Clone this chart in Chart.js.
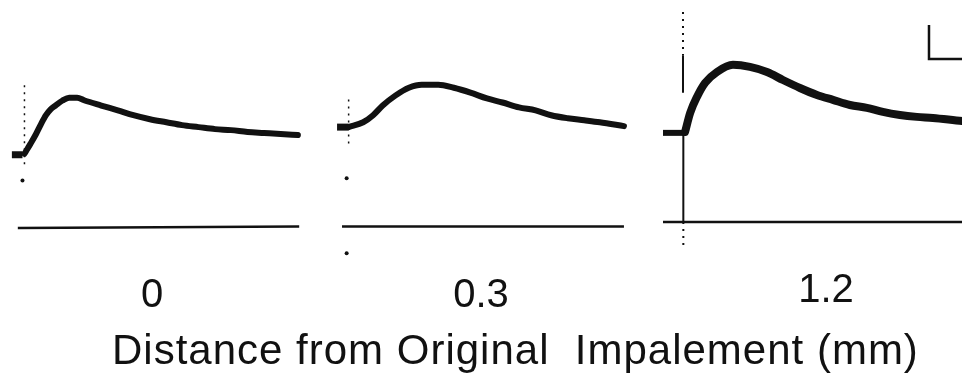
<!DOCTYPE html>
<html>
<head>
<meta charset="utf-8">
<script src="https://cdn.jsdelivr.net/npm/chart.js@4.4.1/dist/chart.umd.min.js"></script>
<style>
  html, body { margin: 0; padding: 0; background: #fff; }
  body { position: relative; width: 962px; height: 377px; overflow: hidden; }
  canvas { position: absolute; }
  #title {
    position: absolute; left: 112px; top: 329px;
    font-family: "Liberation Sans", Arial, sans-serif; font-size: 42px; line-height: 42px;
    letter-spacing: 1px; white-space: pre; color: #111;
  }
</style>
</head>
<body>
<canvas id="sweep0" width="304" height="330" style="left:0px;top:0px"></canvas>
<canvas id="sweep1" width="300" height="330" style="left:331px;top:0px"></canvas>
<canvas id="sweep2" width="326" height="330" style="left:663px;top:-5px"></canvas>
<div id="title"></div>
<script>
/*
 * EPSPs recorded at increasing distance from the original impalement.
 * time in ms after the stimulus, voltage in mV above the lower reference line
 */
const distances = ["0", "0.3", "1.2"];
const axisTitle = "Distance from Original  Impalement (mm)";

// 0 mm
const time0 = [0, 1.8, 3.5, 5.0, 6.5, 7.9, 9.4, 11.5, 13.5, 15.9, 18.2, 23.2, 28.2, 32.9, 37.9, 42.9, 47.6, 52.6, 57.6, 62.4, 67.4, 72.4, 77.4, 82.6];
const volt0 = [4.41, 5.0, 5.59, 6.18, 6.71, 7.06, 7.29, 7.59, 7.76, 7.76, 7.59, 7.29, 7.0, 6.71, 6.47, 6.29, 6.12, 6.0, 5.88, 5.82, 5.71, 5.65, 5.59, 5.53];
const holdTime0 = [-3.8, -0.6];
const holdVolt0 = [4.35, 4.35];
const artTime0 = [0, 0];
const artVolt0 = [8.5, 3.5];
const dotTime0 = [-0.6];
const dotVolt0 = [2.82];
const baseTime0 = [-2.0, 83.0];
const baseVolt0 = [-0.03, 0.06];

// 0.3 mm
const time1 = [0, 4.4, 7.4, 10.3, 14.1, 18.2, 22.1, 27.1, 31.8, 36.8, 41.8, 46.5, 51.5, 56.5, 61.2, 66.2, 71.2, 75.9, 83.2];
const volt1 = [6.0, 6.29, 6.71, 7.29, 7.88, 8.35, 8.53, 8.53, 8.35, 8.06, 7.71, 7.47, 7.18, 7.0, 6.71, 6.53, 6.41, 6.29, 6.06];
const holdTime1 = [-3.5, 0];
const holdVolt1 = [6.0, 6.0];
const artTime1 = [0, 0];
const artVolt1 = [7.65, 5.0];
const dotTime1 = [-0.6, -0.6];
const dotVolt1 = [2.94, -1.53];
const baseTime1 = [-2.0, 83.2];
const baseVolt1 = [0.06, 0.06];

// 1.2 mm
const time2 = [0.6, 2.1, 4.1, 6.5, 10.0, 14.7, 19.7, 24.7, 29.4, 34.4, 39.4, 44.1, 49.1, 54.1, 58.8, 63.8, 68.8, 73.5, 82.1, 90.0];
const volt2 = [5.29, 6.41, 7.35, 8.18, 8.82, 9.24, 9.12, 8.82, 8.35, 7.88, 7.47, 7.18, 6.88, 6.71, 6.47, 6.29, 6.18, 6.12, 5.94, 5.82];
const holdTime2 = [-5.9, 0.6];
const holdVolt2 = [5.24, 5.24];
const artTopTime2 = [0, 0];
const artTopVolt2 = [12.35, 9.8];
const artUpTime2 = [0, 0];
const artUpVolt2 = [9.8, 7.6];
const artLowTime2 = [0.1, 0.1];
const artLowVolt2 = [5.24, 0];
const artEndTime2 = [0.1, 0.1];
const artEndVolt2 = [0, -1.65];
const baseTime2 = [-5.9, 90.0];
const baseVolt2 = [0, 0];

// calibration: 10 ms, 2 mV
const barTime = [72.35, 72.35, 82.35];
const barVolt = [11.59, 9.59, 9.59];

const INK = "#111";

function pts(t, v) {
  return t.map((x, i) => ({ x: x, y: v[i] }));
}

function line(t, v, width, extra) {
  return Object.assign({
    data: pts(t, v),
    borderColor: INK,
    borderWidth: width,
    pointRadius: 0,
    fill: false,
    clip: false,
    tension: 0,
  }, extra || {});
}

function dots(t, v) {
  return {
    data: pts(t, v),
    showLine: false,
    pointRadius: 2,
    pointBorderWidth: 0,
    pointBackgroundColor: INK,
    clip: false,
  };
}

function drawSweep(chartElementId, label, xMin, xMax, datasets) {
  new Chart(document.getElementById(chartElementId), {
    type: "line",
    data: { datasets: datasets },
    options: {
      responsive: false,
      animation: false,
      layout: { padding: 0 },
      plugins: {
        legend: { display: false },
        tooltip: { enabled: false },
      },
      scales: {
        x: {
          type: "linear",
          min: xMin,
          max: xMax,
          grid: { display: false, drawTicks: false },
          border: { display: false },
          ticks: { display: false },
          title: {
            display: true,
            text: label,
            color: INK,
            font: { family: "Liberation Sans", size: 40, weight: "normal" },
            padding: { top: 0, bottom: 10 },
          },
        },
        y: { display: false, min: -2.65, max: 13.35 },
      },
    },
  });
}

const trace = { cubicInterpolationMode: "monotone", borderCapStyle: "round", borderJoinStyle: "round" };
const dashed = { borderDash: [2, 5] };

drawSweep("sweep0", distances[0], -6.18, 83.24, [
  line(time0, volt0, 6, trace),
  line(holdTime0, holdVolt0, 7),
  line(artTime0, artVolt0, 1.5, dashed),
  dots(dotTime0, dotVolt0),
  line(baseTime0, baseVolt0, 2.5),
]);

drawSweep("sweep1", distances[1], -4.12, 84.12, [
  line(time1, volt1, 6, trace),
  line(holdTime1, holdVolt1, 7),
  line(artTime1, artVolt1, 1.5, dashed),
  dots(dotTime1, dotVolt1),
  line(baseTime1, baseVolt1, 2.5),
]);

drawSweep("sweep2", distances[2], -5.88, 90.0, [
  line(time2, volt2, 8, trace),
  line(holdTime2, holdVolt2, 6),
  line(artTopTime2, artTopVolt2, 2, dashed),
  line(artUpTime2, artUpVolt2, 2),
  line(artLowTime2, artLowVolt2, 2),
  line(artEndTime2, artEndVolt2, 2, dashed),
  line(baseTime2, baseVolt2, 2.5),
  line(barTime, barVolt, 2.5, { borderJoinStyle: "miter" }),
]);

document.getElementById("title").textContent = axisTitle;
</script>
</body>
</html>
